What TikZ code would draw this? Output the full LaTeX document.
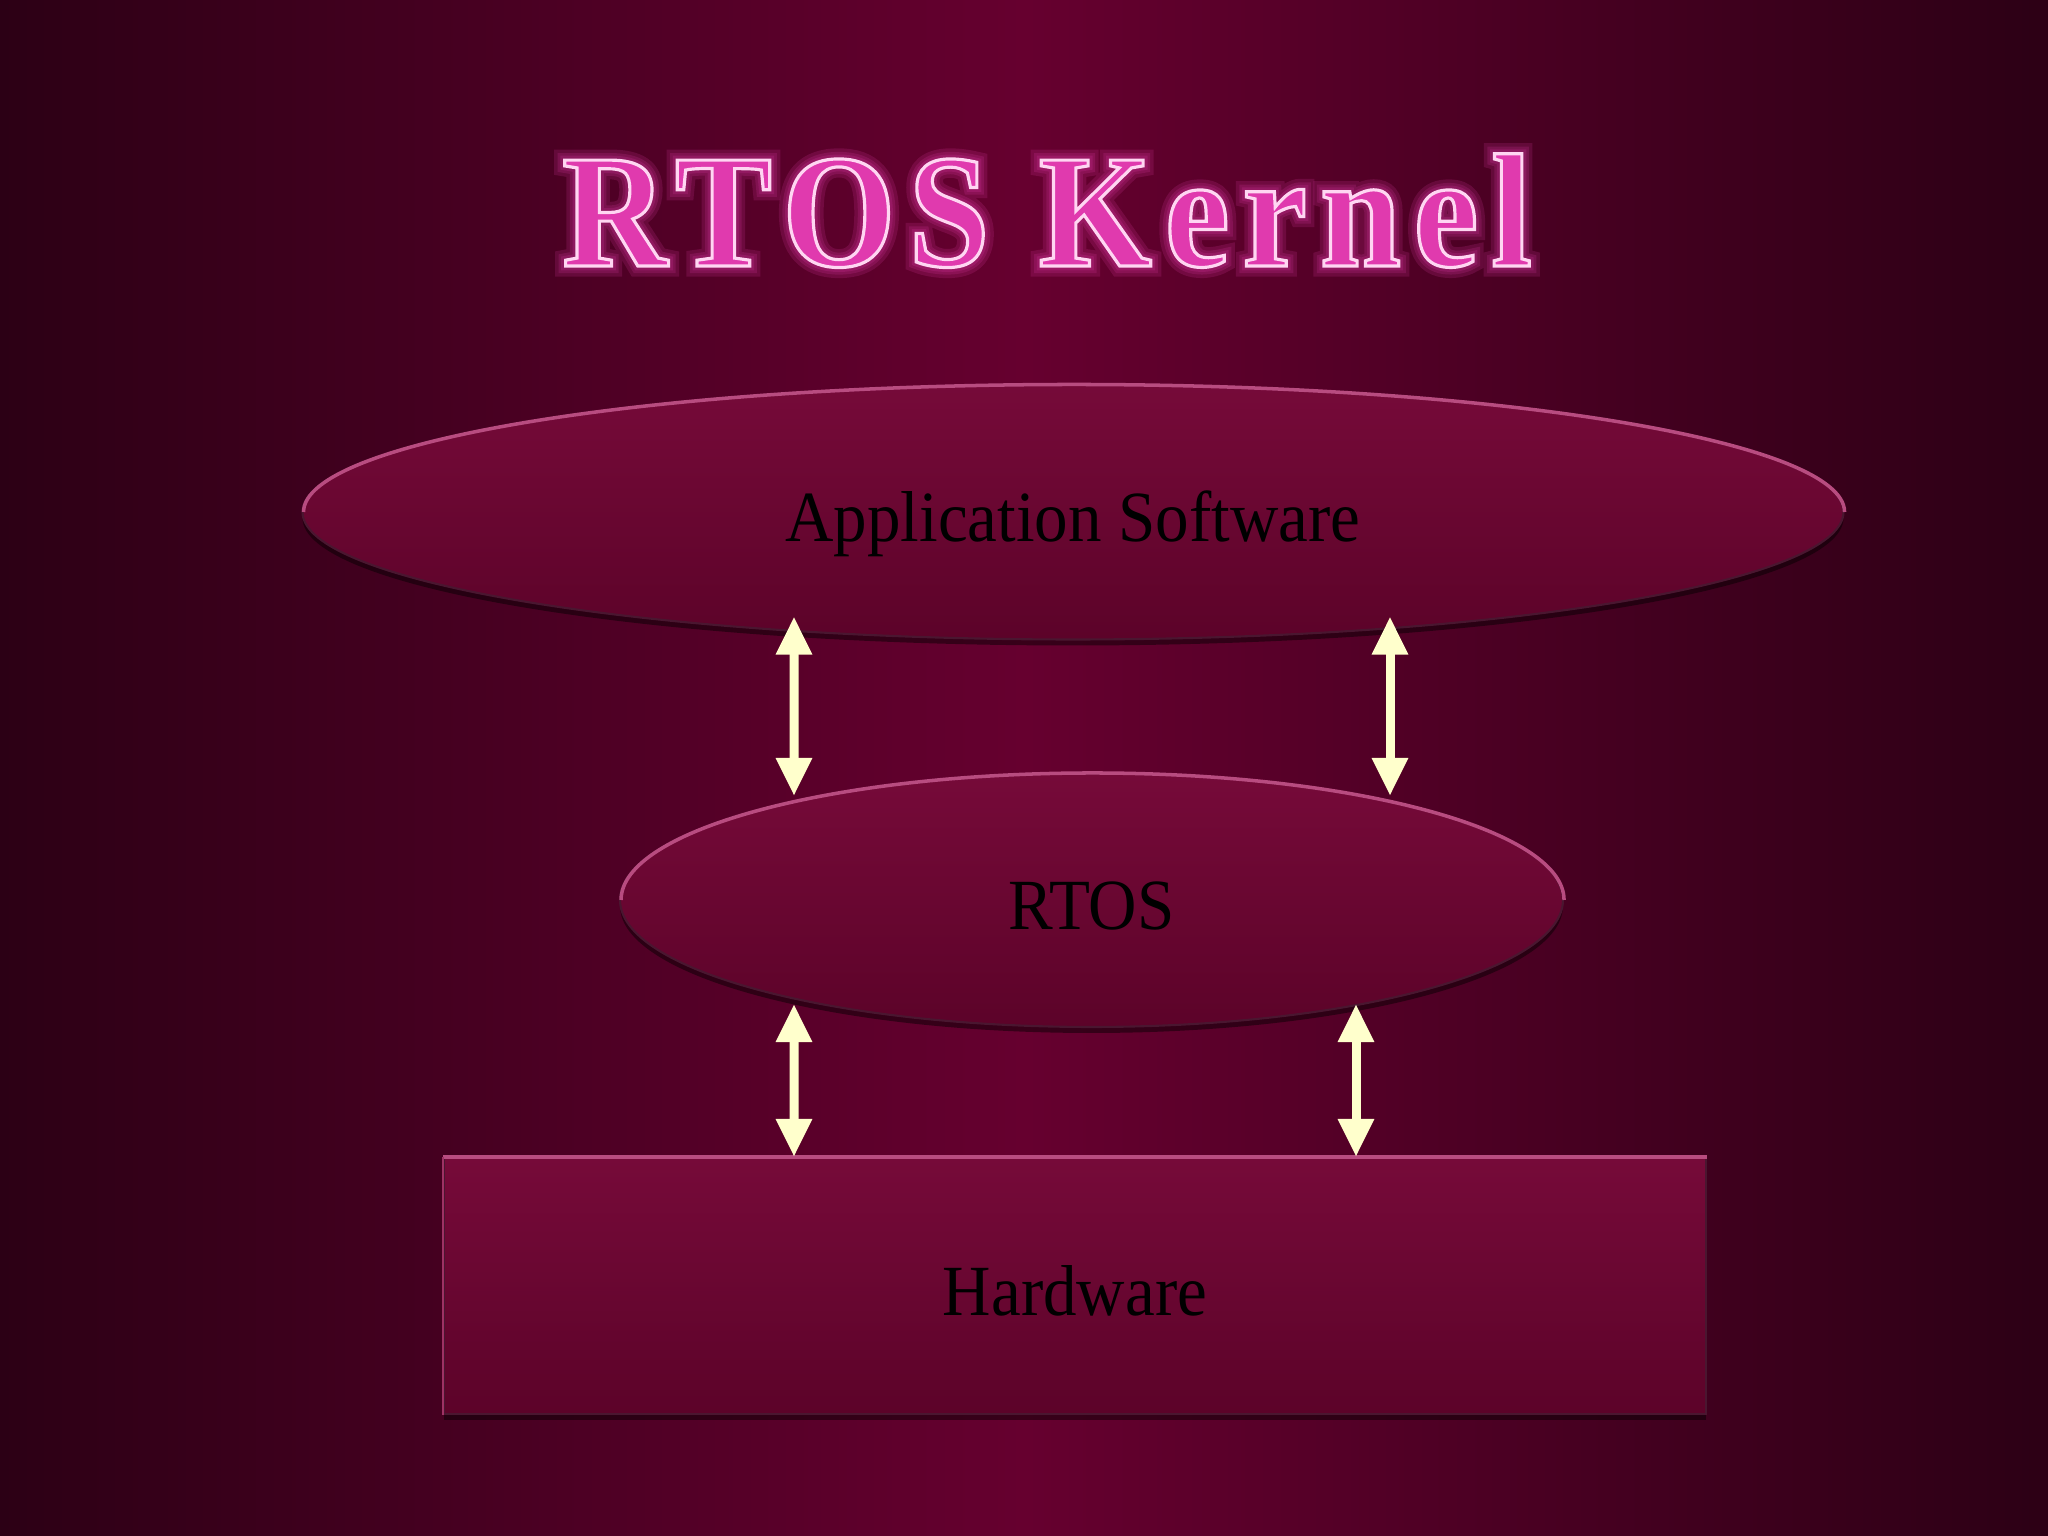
\documentclass[tikz,border=0pt]{standalone}
\usepackage{fontspec}
\usepackage{xcolor}
\usepackage{tikz}
\usetikzlibrary{shapes.geometric,arrows.meta,shadows}

\setmainfont{Liberation Serif}
\newfontfamily\labelfont[FakeStretch=0.93]{Liberation Serif}
\newfontfamily\titlefont[FakeStretch=0.9,LetterSpace=8]{Liberation Serif}
% outlined text: fill and stroke
\newcommand\outlined[3]{\special{pdf:literal direct 2 Tr #1 w #2 RG}#3\special{pdf:literal direct 0 Tr}}

\definecolor{bgedge}{HTML}{2C0015}
\definecolor{bgmid}{HTML}{66002F}
\definecolor{shapetop}{HTML}{760A39}
\definecolor{shapebot}{HTML}{5C0329}
\definecolor{rimlight}{HTML}{B84C80}
\definecolor{rimdark}{HTML}{4A1630}
\definecolor{arrowcream}{HTML}{FFFFCC}
\definecolor{titlepink}{HTML}{E03AAE}
\definecolor{titleglow}{HTML}{FF48C8}

\begin{document}
\begin{tikzpicture}[
layer/.style={inner sep=0pt, top color=shapetop, bottom color=shapebot,
  draw=rimdark, line width=0.6pt,
  drop shadow={shadow xshift=0cm, shadow yshift=-0.06cm, opacity=0.45, fill=black},
  font=\labelfont\fontsize{20.5}{24}\selectfont, text=black,
  text height=0.6cm, text depth=0pt},
titletext/.style={anchor=base, inner sep=0pt,
  font=\titlefont\bfseries\fontsize{46}{50}\selectfont},
dblarrow/.style={draw=arrowcream, line width=0.09cm,
  {Triangle[width=0.34cm,length=0.38cm]}-{Triangle[width=0.34cm,length=0.38cm]}}
]
% The background
\useasboundingbox (0,0) rectangle (20.48,15.36);
\shade[left color=bgedge, right color=bgedge, middle color=bgmid] (0,0) rectangle (20.48,15.36);

% The title
\coordinate (titlepos) at (10.47,12.70);
\foreach \w in {6,4,2.5}
  \node[titletext, text=titleglow, opacity=0.14] (glow\w) at (titlepos) {\outlined{\w}{1 0.28 0.78}{RTOS Kernel}};
\node[titletext, text=titlepink] (title) at (titlepos) {\outlined{0.9}{1 0.84 0.95}{RTOS Kernel}};

% The layers
\node[layer, ellipse, minimum width=15.41cm, minimum height=2.55cm] (app) at (10.73,10.24) {Application Software};
\node[layer, ellipse, minimum width=9.43cm, minimum height=2.54cm] (rtos) at (10.915,6.36) {RTOS};
\node[layer, rectangle, minimum width=12.62cm, minimum height=2.56cm] (hw) at (10.75,2.50) {Hardware};

% The rims
\draw[rimlight, line width=1pt] (app.east) arc[start angle=0, end angle=180, x radius=7.705cm, y radius=1.275cm];
\draw[rimlight, line width=1pt] (rtos.east) arc[start angle=0, end angle=180, x radius=4.715cm, y radius=1.27cm];
\draw[rimlight, line width=1pt] (hw.north west) -- (hw.north east);
\draw[rimlight!60!shapetop, line width=0.8pt] (hw.north west) -- (hw.south west);

% The arrows
\draw[dblarrow] ([xshift=-2.79cm, yshift=0.24cm]app.south) -- ([xshift=-2.975cm, yshift=-0.24cm]rtos.north);
\draw[dblarrow] ([xshift=3.17cm, yshift=0.24cm]app.south) -- ([xshift=2.985cm, yshift=-0.24cm]rtos.north);
\draw[dblarrow] ([xshift=-2.975cm, yshift=0.24cm]rtos.south) -- ([xshift=-2.81cm]hw.north);
\draw[dblarrow] ([xshift=2.645cm, yshift=0.24cm]rtos.south) -- ([xshift=2.81cm]hw.north);
\end{tikzpicture}
\end{document}
